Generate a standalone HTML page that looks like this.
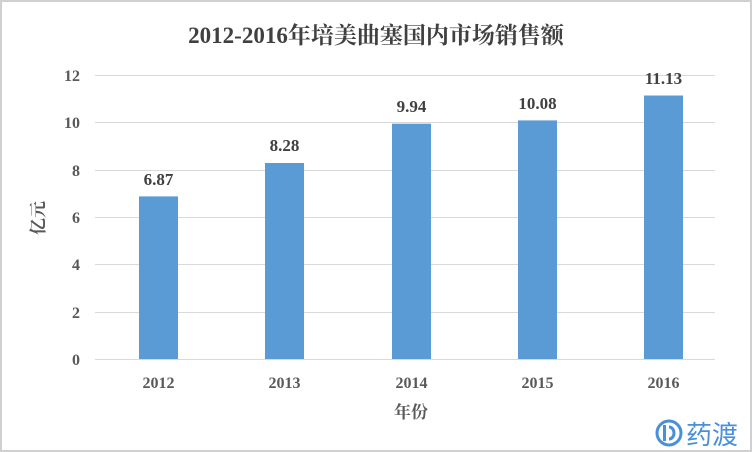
<!DOCTYPE html>
<html><head><meta charset="utf-8"><style>
html,body{margin:0;padding:0;background:#fff}
svg{display:block}
</style></head><body>
<svg width="752" height="452" xmlns="http://www.w3.org/2000/svg" font-family="'Liberation Serif','Noto Serif CJK SC',serif">
<rect x="0" y="0" width="752" height="452" fill="#fff"/>
<rect x="1" y="1" width="750" height="450" fill="none" stroke="#d0d0d0" stroke-width="2"/>
<text x="376" y="43" text-anchor="middle" font-size="23" font-weight="bold" fill="#404040">2012-2016年培美曲塞国内市场销售额</text>
<g stroke="#d9d9d9" stroke-width="1">
<line x1="95" x2="715" y1="75.5" y2="75.5"/>
<line x1="95" x2="715" y1="122.5" y2="122.5"/>
<line x1="95" x2="715" y1="170.5" y2="170.5"/>
<line x1="95" x2="715" y1="217.5" y2="217.5"/>
<line x1="95" x2="715" y1="264.5" y2="264.5"/>
<line x1="95" x2="715" y1="312.5" y2="312.5"/>
<line x1="95" x2="715" y1="359.5" y2="359.5"/>
</g>
<g font-size="16" font-weight="bold" fill="#595959" text-anchor="end">
<text x="80" y="81">12</text><text x="80" y="128">10</text><text x="80" y="176">8</text>
<text x="80" y="223">6</text><text x="80" y="270">4</text><text x="80" y="318">2</text><text x="80" y="365">0</text>
</g>
<g fill="#5b9bd5">
<rect x="139" y="196.4" width="39" height="162.6"/>
<rect x="265" y="163.0" width="39" height="196"/>
<rect x="392" y="123.7" width="39" height="235.3"/>
<rect x="518" y="120.4" width="39" height="238.6"/>
<rect x="644" y="95.5" width="39" height="263.5"/>
</g>
<g font-size="17" font-weight="bold" fill="#404040" text-anchor="middle">
<text x="158.5" y="185">6.87</text><text x="284.5" y="151">8.28</text><text x="411.5" y="112">9.94</text>
<text x="537.5" y="109">10.08</text><text x="663.5" y="84">11.13</text>
</g>
<g font-size="16" font-weight="bold" fill="#595959" text-anchor="middle">
<text x="158.5" y="388">2012</text><text x="284.5" y="388">2013</text><text x="411.5" y="388">2014</text>
<text x="537.5" y="388">2015</text><text x="663.5" y="388">2016</text>
</g>
<text x="411" y="418" text-anchor="middle" font-size="17" font-weight="bold" fill="#595959">年份</text>
<text transform="translate(44,218) rotate(-90)" text-anchor="middle" font-size="17" font-weight="bold" fill="#595959">亿元</text>
<g>
<circle cx="669" cy="433" r="12" fill="none" stroke="#4a90d9" stroke-width="3"/>
<rect x="663" y="425" width="3" height="16" fill="#4a90d9"/>
<path d="M669 427 a5 6 0 0 1 0 12" fill="none" stroke="#4a90d9" stroke-width="3"/>
<text x="686" y="444" font-family="'Noto Sans CJK SC',sans-serif" font-size="26" fill="#4a90d9">药渡</text>
</g>
</svg>
</body></html>
